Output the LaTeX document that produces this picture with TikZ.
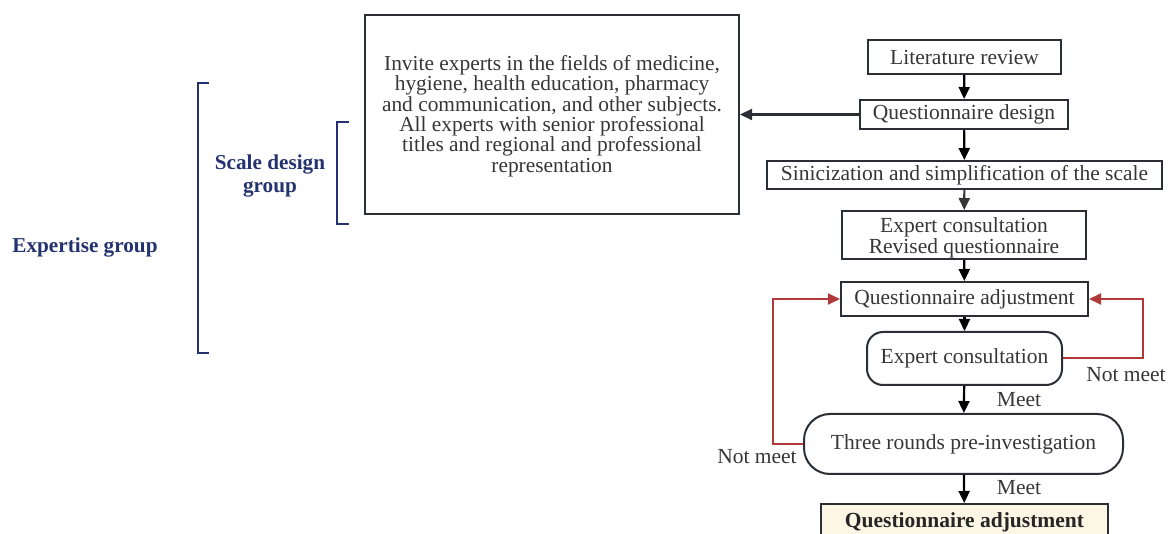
\documentclass[tikz,border=0pt]{standalone}
\usepackage{fontspec}
\setmainfont{Liberation Serif}
\usetikzlibrary{arrows.meta}
\definecolor{ink}{HTML}{363636}
\definecolor{frame}{HTML}{2A2F36}
\definecolor{navy}{HTML}{24336F}
\definecolor{loopred}{HTML}{B03A3A}
\definecolor{cream}{HTML}{FCF7E4}
\tikzset{
  flowbox/.style={draw=frame, line width=2pt, text=ink, inner sep=0pt, align=center,
    font=\fontsize{21.5}{21}\selectfont},
  roundbox/.style={flowbox, rounded corners=#1},
  flowarrow/.style={line width=2.2pt, -{Triangle[length=12pt,width=11pt]}},
  looparrow/.style={draw=loopred, line width=2pt, -{Triangle[length=12pt,width=11pt]}},
  lbl/.style={text=ink, inner sep=0pt, font=\fontsize{21.5}{21}\selectfont},
  grouplbl/.style={text=navy, inner sep=0pt, align=center, font=\fontsize{21.2}{23}\selectfont\bfseries},
  bracket/.style={draw=navy, line width=1.8pt}
}
\begin{document}
\begin{tikzpicture}[x=1pt, y=-1pt]
\useasboundingbox (0,0) rectangle (1171,534);
\clip (0,0) rectangle (1171,534);

% main flow
\node[flowbox, minimum width=193pt, minimum height=34pt] (lit) at (964.5,57) {Literature review};
\node[flowbox, minimum width=208pt, minimum height=29pt] (qd) at (964,114.5) {Questionnaire design};
\node[flowbox, minimum width=395pt, minimum height=28pt] (sin) at (964.5,175) {Sinicization and simplification of the scale};
\node[flowbox, minimum width=244pt, minimum height=48pt] (rev) at (964,235) {};
\node[lbl, align=center, font=\fontsize{21.5}{20.5}\selectfont] (revtxt) at (964,238) {Expert consultation\\Revised questionnaire};
\node[flowbox, minimum width=247pt, minimum height=34pt] (qa) at (964.5,299) {Questionnaire adjustment};
\node[roundbox=16pt, minimum width=195pt, minimum height=53pt] (ec) at (964.5,358.5) {Expert consultation};
\node[roundbox=26pt, minimum width=319pt, minimum height=60pt] (tr) at (963.5,444) {Three rounds pre-investigation};
\node[flowbox, fill=cream, minimum width=287pt, minimum height=36pt, text=black!85,
  font=\fontsize{21.5}{21}\selectfont\bfseries] (fin) at (964.5,522) {Questionnaire adjustment};

% expert panel description
\node[flowbox, minimum width=374pt, minimum height=199pt] (panel) at (552,114.5) {};
\node[lbl, align=center, font=\fontsize{21.4}{20.4}\selectfont] (paneltxt) at (552,116)
  {Invite experts in the fields of medicine,\\hygiene, health education, pharmacy\\and communication, and other subjects.\\All experts with senior professional\\titles and regional and professional\\representation};

% vertical arrows
\draw[flowarrow, draw=black] (lit) -- (qd);
\draw[flowarrow, draw=black] (qd) -- (sin);
\draw[flowarrow, draw=ink] (sin) -- (rev);
\draw[flowarrow, draw=black] (rev) -- (qa);
\draw[flowarrow, draw=black] (qa) -- (ec);
\draw[flowarrow, draw=black] (ec) -- (tr);
\draw[flowarrow, draw=black] (tr) -- (fin);
\draw[flowarrow, draw=frame] (qd.west) -- (panel.east);

\node[lbl] (m1) at (1019,400) {Meet};
\node[lbl] (m2) at (1019,488) {Meet};

% feedback loops
\coordinate (rc) at (1143,358.5);
\coordinate (lc) at (773,444);
\draw[looparrow] (ec.east) -- (rc) |- (qa.east);
\draw[looparrow] (tr.west) -- (lc) |- (qa.west);
\node[lbl] (nm1) at (1126,375) {Not meet};
\node[lbl] (nm2) at (757,457) {Not meet};

% group brackets
\draw[bracket] (209,83) -- (198,83) -- (198,353) -- (209,353);
\draw[bracket] (349,122) -- (337,122) -- (337,224) -- (349,224);
\node[grouplbl] (eg) at (85,247) {Expertise group};
\node[grouplbl] (sg) at (270,176) {Scale design\\group};
\end{tikzpicture}
\end{document}
